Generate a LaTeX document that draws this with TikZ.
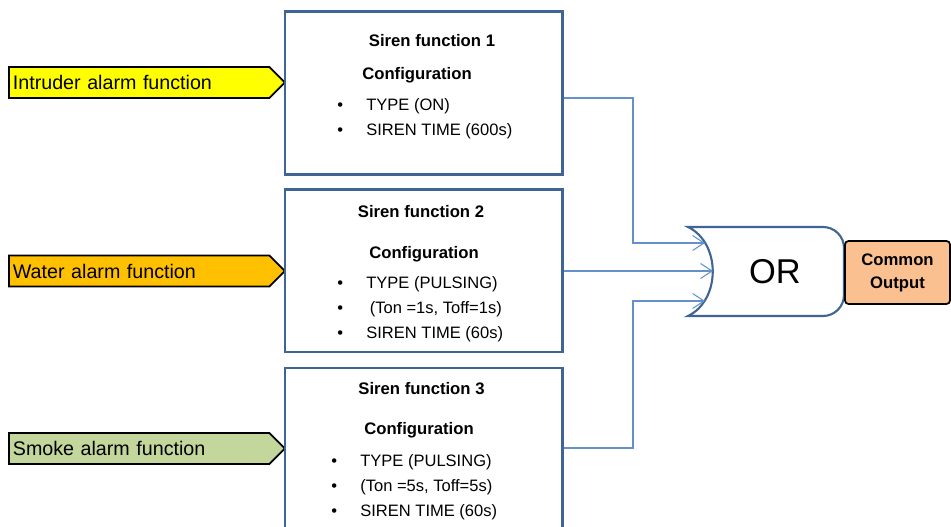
\documentclass[tikz,border=0pt]{standalone}
\usepackage{fontspec}
\setmainfont{Liberation Sans}
\usetikzlibrary{positioning, arrows.meta, shapes.symbols}
\definecolor{cBox}  {RGB}{64,100,148}
\definecolor{cLink} {RGB}{100,145,200}
\definecolor{cIntr} {RGB}{255,255,0}
\definecolor{cWater}{RGB}{255,192,0}
\definecolor{cSmoke}{RGB}{195,214,155}
\definecolor{cOut}  {RGB}{250,192,144}
\newcommand{\itm}{\makebox[16.5pt][l]{\textbullet}}
\tikzset{
  %% alarm input (pentagon arrow)
  IN/.style={signal, signal to=east, signal pointer angle=90, draw=black,
             fill=#1, line width=1pt, minimum width=5.52cm, minimum height=0.62cm,
             inner xsep=0.08cm, inner ysep=0pt, text width=5.05cm, align=left,
             font=\fontsize{11.2}{13}\selectfont},
  %% siren function box
  SF/.style={rectangle, draw=cBox, line width=1.7pt, fill=white,
             minimum width=5.54cm, minimum height=3.24cm},
  %% headings inside a box
  HD/.style={font=\fontsize{9.5}{11}\selectfont\bfseries, inner sep=0pt},
  %% bullet list inside a box
  LST/.style={anchor=west, align=left, inner sep=0pt,
              font=\fontsize{9.4}{14.2}\selectfont},
  %% arrows
  A/.style={-{Straight Barb[length=6.5pt,width=8.5pt]}, line width=0.6pt, color=cLink},
  %% gate outline
  ORG/.style={draw=cBox, line width=1.2pt, fill=white},
  %% output box
  OUT/.style={rectangle, rounded corners=2pt, draw=black, fill=cOut,
              line width=1pt, minimum width=2.1cm, minimum height=1.26cm,
              align=center, font=\fontsize{9.5}{13}\selectfont\bfseries},
}
\begin{document}
\begin{tikzpicture}
\useasboundingbox (0,0) rectangle (19.02,10.54);

%% ── Alarm inputs ──
\node[IN=cIntr,  anchor=west] (intr)  at (0.16, 8.89) {Intruder alarm function};
\node[IN=cWater, anchor=west] (water) at (0.16, 5.12) {Water alarm function};
\node[IN=cSmoke, anchor=west] (smoke) at (0.16, 1.57) {Smoke alarm function};

%% ── Siren function 1 ──
\node[SF, minimum height=3.26cm] (sf1) at (8.47, 8.67) {};
\node[HD] (t1) at (8.64, 9.72) {Siren function 1};
\node[HD] (c1) at (8.34, 9.04) {Configuration};
\node[LST] (l1) at (6.74, 8.17) {\itm TYPE (ON)\\ \itm SIREN TIME (600s)};

%% ── Siren function 2 ──
\node[SF] (sf2) at (8.47, 5.12) {};
\node[HD] (t2) at (8.42, 6.30) {Siren function 2};
\node[HD] (c2) at (8.48, 5.46) {Configuration};
\node[LST] (l2) at (6.74, 4.36)
  {\itm TYPE (PULSING)\\ \itm\hspace{2pt}(Ton =1s, Toff=1s)\\ \itm SIREN TIME (60s)};

%% ── Siren function 3 ──
\node[SF] (sf3) at (8.47, 1.56) {};
\node[HD] (t3) at (8.43, 2.76) {Siren function 3};
\node[HD] (c3) at (8.38, 1.94) {Configuration};
\node[LST] (l3) at (6.62, 0.80)
  {\itm TYPE (PULSING)\\ \itm (Ton =5s, Toff=5s)\\ \itm SIREN TIME (60s)};

%% ── OR gate ──
\draw[ORG] (13.76,6.00) -- (16.46,6.00) arc[start angle=90, end angle=0, radius=0.42]
  -- (16.88,4.64) arc[start angle=0, end angle=-90, radius=0.42]
  -- (13.76,4.22) .. controls (14.42,4.54) and (14.42,5.68) .. cycle;
\node[font=\fontsize{19.6}{22}\selectfont] (orgate) at (15.5, 5.10) {OR};

%% ── Output ──
\node[OUT] (out) at (17.95, 5.09) {Common\\Output};

%% ── Connectors ──
\coordinate (in1)  at (14.10, 5.68);
\coordinate (in2)  at (14.26, 5.12);
\coordinate (in3)  at (14.10, 4.52);
\coordinate (bus1) at (12.66, 8.58);
\coordinate (bus3) at (12.66, 1.58);

\draw[A] (sf1.east |- bus1) -- (bus1) |- (in1);
\draw[A] (sf2.east) -- (in2);
\draw[A] (sf3.east |- bus3) -- (bus3) |- (in3);

\end{tikzpicture}
\end{document}
